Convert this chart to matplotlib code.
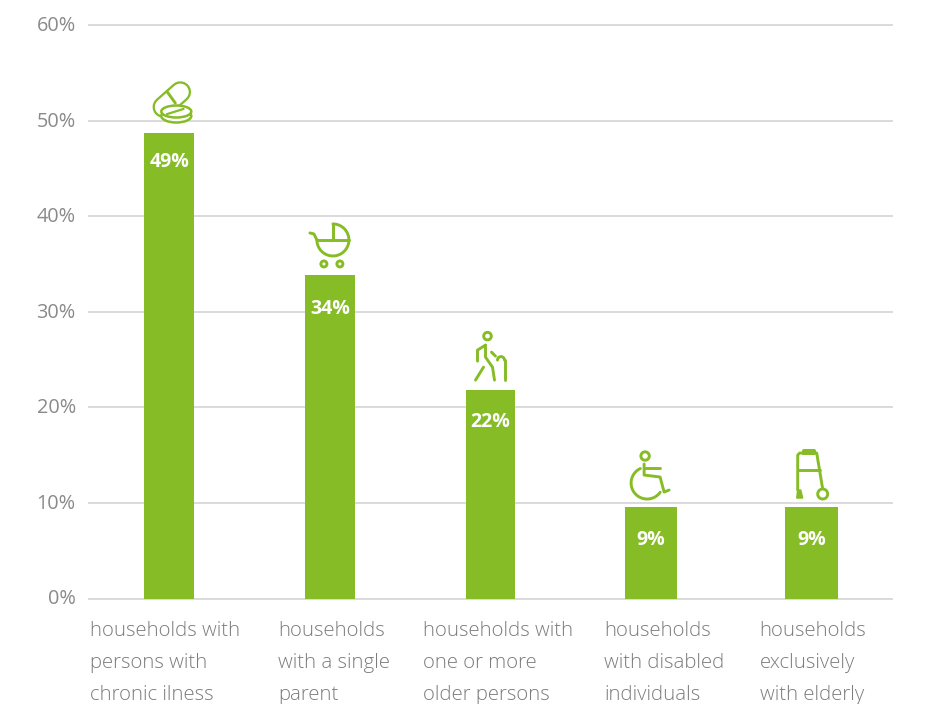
#!/usr/bin/env python3

"""Share of households by type, bars with small line icons on top."""

import numpy as np
import matplotlib
matplotlib.use("Agg")
import matplotlib.pyplot as plt
from matplotlib.patches import Circle, Ellipse, Polygon
from matplotlib.transforms import ScaledTranslation

categories = [
    "households with\npersons with\nchronic ilness",
    "households\nwith a single\nparent",
    "households with\none or more\nolder persons",
    "households\nwith disabled\nindividuals",
    "households\nexclusively\nwith elderly",
]
values = [48.7, 33.85, 21.8, 9.57, 9.57]
value_labels = ["49%", "34%", "22%", "9%", "9%"]
y_ticks = [0, 10, 20, 30, 40, 50, 60]
y_tick_labels = ["0%", "10%", "20%", "30%", "40%", "50%", "60%"]

GREEN = "#86bc25"
GREY = "#8a8a8a"
W, H = 942, 704
LW = 2.1

plt.rcParams["font.family"] = ["Open Sans", "DejaVu Sans"]

fig = plt.figure(figsize=(W / 100, H / 100), dpi=100)
ax = fig.add_axes([89 / W, 1 - 598.5 / H, 803 / W, 573.5 / H])
xs = np.arange(len(categories))
widths = [0.311, 0.311, 0.311, 0.324, 0.33]
ax.bar(xs, values, width=widths, color=GREEN, zorder=3)
ax.set_xlim(-0.5, 4.5)
ax.set_ylim(0, 60)
ax.set_yticks(y_ticks)
ax.set_yticklabels(y_tick_labels, fontsize=14.3, color=GREY)
ax.set_xticks([])
ax.tick_params(axis="y", length=0, pad=9.5)
ax.grid(axis="y", color="#dadada", lw=1.4, zorder=0, clip_on=False)
for s in ax.spines.values():
    s.set_visible(False)
for lab in ax.get_yticklabels():
    lab.set_transform(lab.get_transform() + ScaledTranslation(0, 1.5 / 100, fig.dpi_scale_trans))

# overlay in pixels, y pointing down, for icons and wrapped labels
ov = fig.add_axes([0, 0, 1, 1])
ov.set_xlim(0, W)
ov.set_ylim(H, 0)
ov.axis("off")


def line(cx, top, pts, lw=LW, color=GREEN, z=5):
    pts = np.array(pts, dtype=float)
    ov.plot(cx + pts[:, 0], top + pts[:, 1], color=color, lw=lw, zorder=z,
            solid_capstyle="round", solid_joinstyle="round")


def arc(cx, top, x0, y0, r, a0, a1):
    t = np.radians(np.linspace(a0, a1, 60))
    line(cx, top, np.c_[x0 + r * np.cos(t), y0 + r * np.sin(t)])


def ring(cx, top, x0, y0, r):
    ov.add_patch(Circle((cx + x0, top + y0), r, fc="white", ec=GREEN, lw=LW, zorder=5))


def pill(cx, top):
    axis = [(-6, -26), (11, -41)]
    line(cx, top, axis, lw=15.5, z=4)
    line(cx, top, axis, lw=12.2, color="white", z=4)
    line(cx, top, [(-2, -41), (6, -30)])
    ov.add_patch(Ellipse((cx + 7, top - 17), 30, 13, fc="white", ec=GREEN, lw=1.8, zorder=5))
    ov.add_patch(Ellipse((cx + 7, top - 21.5), 30, 12, fc="white", ec=GREEN, lw=1.8, zorder=6))
    ov.plot([cx - 2, cx + 14], [top - 19, top - 24], color=GREEN, lw=1.6, zorder=7)


def stroller(cx, top):
    arc(cx, top, 3, -35, 16, 0, 180)
    arc(cx, top, 3, -35, 16, -90, 0)
    line(cx, top, [(3, -51), (3, -35)])
    line(cx, top, [(-13, -35), (19, -35)])
    line(cx, top, [(-20, -42), (-16, -41), (-14, -37), (-13, -35)])
    ring(cx, top, -6, -11, 3)
    ring(cx, top, 10, -11, 3)


def walker(cx, top):
    ring(cx, top, -3, -54, 3.8)
    line(cx, top, [(-5, -45), (-5, -33), (2, -23), (4, -10)])
    line(cx, top, [(-5, -45), (-13, -40), (-13, -29)])
    line(cx, top, [(-7, -23), (-15, -10)])
    line(cx, top, [(1, -38), (5, -34)])
    arc(cx, top, 10.5, -30, 3.5, 180, 360)
    line(cx, top, [(14, -30), (14, -10)])


def wheelchair(cx, top):
    ring(cx, top, -6, -51, 4.2)
    line(cx, top, [(-7, -43), (-7, -32), (9, -30), (13, -15), (18, -17)])
    line(cx, top, [(-7, -39), (9, -39)])
    arc(cx, top, -4, -24, 16, 35, 245)


def frame(cx, top):
    line(cx, top, [(-14, -17), (-14, -52), (-12, -54), (5, -54), (11, -18)])
    line(cx, top, [(-14, -37), (8, -37)])
    line(cx, top, [(-9, -54), (-9, -57), (2, -57), (2, -54), (-9, -54)])
    ring(cx, top, 11, -13, 5)
    ov.add_patch(Polygon([(cx - 15, top - 9), (cx - 9, top - 9), (cx - 11, top - 17), (cx - 14, top - 17)],
                         fc=GREEN, ec=GREEN, lw=1, zorder=5))


icons = [pill, stroller, walker, wheelchair, frame]
label_offsets = [29, 34, 32, 33, 33]
for x, v, lab, icon, off in zip(xs, values, value_labels, icons, label_offsets):
    px, py = ax.transData.transform((x, v))
    py = H - py
    icon(px, py)
    ov.text(px, py + off, lab, color="white", fontsize=14, fontweight="bold",
            ha="center", va="center", zorder=6)

label_left = [90, 278.5, 423, 604.5, 759.5]
for x, cat in zip(label_left, categories):
    for i, row in enumerate(cat.split("\n")):
        ov.text(x, 636 + 32 * i, row, color="#7c7c7c", fontsize=14.7, fontweight="light",
                ha="left", va="baseline")

fig.savefig("out.png", dpi=100)
